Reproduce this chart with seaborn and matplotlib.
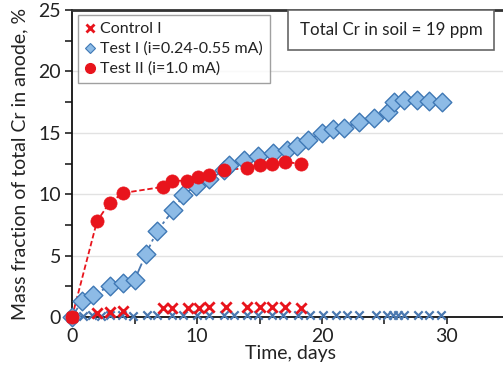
import numpy as np
import pandas as pd
import matplotlib
matplotlib.use("Agg")
import matplotlib.pyplot as plt
import seaborn as sns
from matplotlib.lines import Line2D

# Time (days) and Cr mass fraction (%) for each run
test2_days = [0, 2.0, 3.0, 4.1, 7.3, 8.0, 9.2, 10.1, 11.0, 12.2, 14.0, 15.0, 16.0, 17.0, 18.3]
test2_vals = [0, 7.8, 9.3, 10.1, 10.6, 11.1, 11.1, 11.4, 11.6, 12.0, 12.1, 12.4, 12.5, 12.6, 12.5]

test1_days = [0, 0.8, 1.7, 3.0, 4.1, 5.0, 5.9, 6.8, 8.1, 8.9, 9.9, 11.0, 12.2, 12.6, 13.8,
              14.9, 16.1, 17.2, 18.0, 18.9, 20.0, 20.9, 21.8, 23.0, 24.2, 25.3, 25.8,
              26.6, 27.6, 28.6, 29.6]
test1_vals = [0, 1.3, 1.8, 2.5, 2.8, 3.0, 5.1, 7.0, 8.7, 9.9, 10.7, 11.2, 12.0, 12.4, 12.8,
              13.1, 13.35, 13.6, 13.9, 14.4, 15.0, 15.3, 15.4, 15.9, 16.2, 16.7, 17.5,
              17.7, 17.7, 17.6, 17.5]

control1_days = [0, 2.0, 3.0, 4.1, 7.3, 8.0, 9.3, 10.2, 11.0, 12.3, 14.0, 15.0, 16.0, 17.0, 18.3]
control1_vals = [0, 0.3, 0.4, 0.5, 0.7, 0.7, 0.7, 0.7, 0.8, 0.8, 0.8, 0.8, 0.8, 0.8, 0.7]

control2_days = [0.9, 1.6, 2.3, 3.0, 4.0, 4.9, 6.0, 6.8, 8.0, 8.9, 10.0, 11.0, 12.2, 13.0,
                 14.0, 14.9, 16.0, 16.9, 18.1, 19.0, 20.1, 21.1, 22.0, 23.0, 24.3, 25.2,
                 25.7, 26.1, 26.6, 27.7, 28.6, 29.5]
control2_vals = [0.1, 0.15, 0.1, 0.15, 0.15, 0.1, 0.15, 0.15, 0.2, 0.15, 0.15, 0.2, 0.15, 0.2,
                 0.2, 0.2, 0.2, 0.15, 0.2, 0.15, 0.15, 0.15, 0.2, 0.15, 0.2, 0.2,
                 0.2, 0.2, 0.2, 0.15, 0.15, 0.15]

legend_labels = ["Control I", "Test I (i=0.24-0.55 mA)", "Test II (i=1.0 mA)"]
note_text = "Total Cr in soil = 19 ppm"

RED = "#e8141c"
BLUE_EDGE = "#3f78b5"
BLUE_FILL = "#8dbbe6"
BLUE_X = "#4a78b0"

sns.set_theme(style="white")
plt.rcParams["font.family"] = ["Lato", "DejaVu Sans"]

fig = plt.figure(figsize=(5.03, 3.74), dpi=100)
ax = fig.add_axes([72 / 503, 57 / 374, 437.5 / 503, 307 / 374])

t1 = pd.DataFrame({"day": test1_days, "val": test1_vals})
t2 = pd.DataFrame({"day": test2_days, "val": test2_vals})
c1 = pd.DataFrame({"day": control1_days, "val": control1_vals})
c2 = pd.DataFrame({"day": control2_days, "val": control2_vals})

# trend lines
sns.lineplot(data=t2, x="day", y="val", ax=ax, color=RED, lw=1.3, sort=False,
             estimator=None, zorder=2)
ax.lines[-1].set_linestyle((0, (3, 1.5)))
sns.lineplot(data=t1, x="day", y="val", ax=ax, color=BLUE_X, lw=1.3, sort=False,
             estimator=None, zorder=2)
ax.lines[-1].set_linestyle((0, (6, 2, 1.5, 2)))

# markers
sns.scatterplot(data=c2, x="day", y="val", ax=ax, marker="x", color=BLUE_X, s=36,
                linewidth=1.6, zorder=3, clip_on=False)
sns.scatterplot(data=t1, x="day", y="val", ax=ax, marker="D", color=BLUE_FILL,
                edgecolor=BLUE_EDGE, s=90, linewidth=1.0, zorder=4, clip_on=False)
sns.scatterplot(data=c1, x="day", y="val", ax=ax, marker="x", color=RED, s=55,
                linewidth=2.0, zorder=5, clip_on=False)
sns.scatterplot(data=t2, x="day", y="val", ax=ax, marker="o", color=RED,
                edgecolor=RED, s=90, linewidth=0.5, zorder=6, clip_on=False)

ax.set_xlim(0, 35)
ax.set_ylim(0, 25)
ax.set_xticks([0, 10, 20, 30])
ax.set_xticks([5, 15, 25], minor=True)
ax.set_yticks([0, 5, 10, 15, 20, 25])
ax.set_yticks([2.5, 7.5, 12.5, 17.5, 22.5], minor=True)
ax.tick_params(axis="both", which="both", direction="out", length=5, width=1.2,
               color="#222222", labelsize=14, pad=3, left=True, bottom=True)
ax.tick_params(axis="both", labelcolor="#222222")
for s in ["left", "bottom"]:
    ax.spines[s].set_color("#111111")
    ax.spines[s].set_linewidth(1.3)
ax.spines["top"].set_color("#333333")
ax.spines["top"].set_linewidth(2.0)
ax.spines["right"].set_visible(False)

ax.yaxis.grid(True, which="major", color="#e2e2e2", lw=1.0)
ax.set_axisbelow(True)

ax.set_xlabel("Time, days", fontsize=14, color="#222222", labelpad=0)
ax.set_ylabel("Mass fraction of total Cr in anode, %", fontsize=14, color="#222222",
              labelpad=7)

handles = [
    Line2D([], [], ls="none", marker="x", color=RED, ms=6, mew=2.0),
    Line2D([], [], ls="none", marker="D", color=BLUE_FILL, mec=BLUE_EDGE, ms=5, mew=0.8),
    Line2D([], [], ls="none", marker="o", color=RED, ms=7),
]
leg = ax.legend(handles, legend_labels, loc="upper left", bbox_to_anchor=(0.014, 0.984),
                frameon=True, fancybox=False, fontsize=11.5, handlelength=0.6,
                handletextpad=0.35, borderpad=0.45, labelspacing=0.35,
                borderaxespad=0.0)
leg.get_frame().set_edgecolor("#888888")
leg.get_frame().set_linewidth(1.0)
for t in leg.get_texts():
    t.set_color("#222222")

fig.text(391 / 503, 1 - 30 / 374, note_text, ha="center", va="center",
         fontsize=12.2, color="#222222",
         bbox=dict(boxstyle="square,pad=0.7", fc="white", ec="#666666", lw=1.2))

fig.savefig("out.png", dpi=100)
